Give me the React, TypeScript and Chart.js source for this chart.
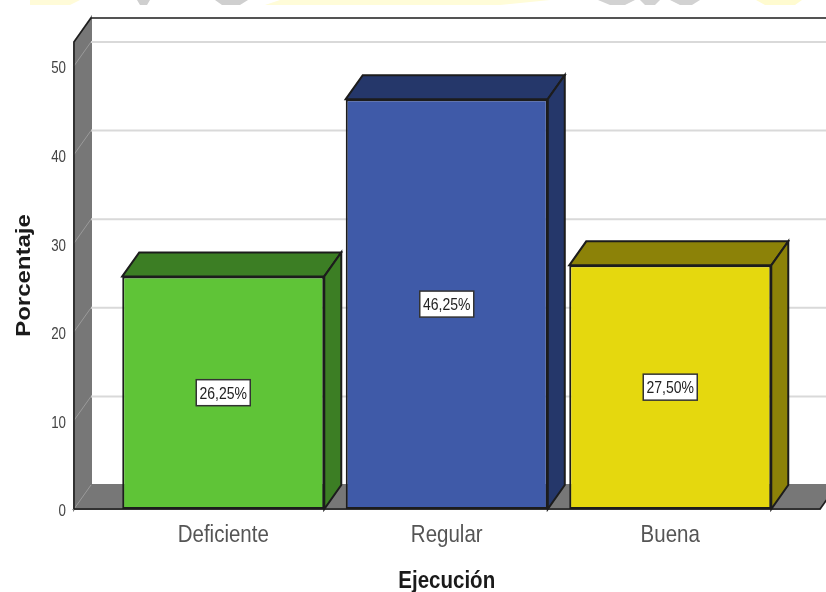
import React, { useEffect, useRef } from "react";
import { Chart, registerables } from "chart.js";

Chart.register(...registerables);

const categories = ["Deficiente", "Regular", "Buena"];
const percentages = [26.25, 46.25, 27.5];
const frontColors = ["#5fc437", "#3f5aa8", "#e5d80e"];
const shadeColors = ["#3c7e24", "#25376a", "#8c8208"];
const yTicks = [0, 10, 20, 30, 40, 50];

const AXIS_MAX = 52.7;
const DEPTH_X = 17;
const DEPTH_Y = 24;
const SIDE_GAP = 37.5;
const FLOOR_OVERHANG = 38;
const WALL = "#777777";
const EDGE = "#1c1c1c";
const GRID = "#d9d9d9";
const FONT = "'Liberation Sans', Arial, sans-serif";
const TEXT_STRETCH = 1.2;

// Remains of a letterhead cropped by the top edge of the page: [x0, x1, x2, x3, colour]
const letterheadStrips: [number, number, number, number, string][] = [
  [30, 80, 70, 30, "#fffbd8"],
  [137, 150, 147, 140, "#cfcfcf"],
  [215, 248, 240, 222, "#cfcfcf"],
  [280, 550, 500, 265, "#fffcd8"],
  [598, 635, 625, 610, "#d2d2d2"],
  [640, 660, 655, 645, "#d2d2d2"],
  [670, 700, 692, 680, "#d2d2d2"],
  [756, 802, 795, 765, "#fffbd0"],
];

const formatPercent = (v: number) => v.toFixed(2).replace(".", ",") + "%";

function polygon(ctx: CanvasRenderingContext2D, pts: number[][], fill: string, stroke = EDGE) {
  ctx.beginPath();
  pts.forEach(([x, y], i) => (i ? ctx.lineTo(x, y) : ctx.moveTo(x, y)));
  ctx.closePath();
  ctx.fillStyle = fill;
  ctx.fill();
  ctx.strokeStyle = stroke;
  ctx.lineWidth = 2;
  ctx.stroke();
}

function edge(ctx: CanvasRenderingContext2D, pts: number[][]) {
  ctx.strokeStyle = EDGE;
  ctx.lineWidth = 1.5;
  ctx.beginPath();
  pts.forEach(([x, y], i) => (i ? ctx.lineTo(x, y) : ctx.moveTo(x, y)));
  ctx.stroke();
}

// Runs a scale's text drawing with a stretch about a fixed pivot, for tall, narrow lettering.
function stretched(ctx: CanvasRenderingContext2D, sx: number, sy: number, px: number, py: number, draw: () => void) {
  ctx.save();
  ctx.translate(px, py);
  ctx.scale(sx, sy);
  ctx.translate(-px, -py);
  draw();
  ctx.restore();
}

const boxPlugin = {
  id: "box3d",
  beforeDraw(chart: any) {
    const { ctx } = chart;
    letterheadStrips.forEach(([a, b, c, d, color]) => {
      ctx.beginPath();
      ctx.moveTo(a, 0);
      ctx.lineTo(b, 0);
      ctx.lineTo(c, 5);
      ctx.lineTo(d, 5);
      ctx.closePath();
      ctx.fillStyle = color;
      ctx.fill();
    });
  },
  // Side wall, floor, grid lines and back edge of the 3D box.
  beforeDatasetsDraw(chart: any) {
    const { ctx, chartArea, scales } = chart;
    const y = scales.y;
    const wallX = chartArea.left - SIDE_GAP;
    const floorY = y.getPixelForValue(0);
    const topY = y.getPixelForValue(AXIS_MAX);
    const rightFront = chartArea.right + FLOOR_OVERHANG;
    const canvasRight = chart.width;
    const backX = wallX + DEPTH_X;
    ctx.save();

    polygon(ctx, [[wallX, floorY], [backX, floorY - DEPTH_Y], [backX, topY - DEPTH_Y], [wallX, topY]], WALL, WALL);
    polygon(ctx, [[wallX, floorY], [backX, floorY - DEPTH_Y], [rightFront + DEPTH_X, floorY - DEPTH_Y], [rightFront, floorY]], WALL, WALL);

    yTicks.forEach((t) => {
      const py = y.getPixelForValue(t);
      if (t > 0) {
        ctx.strokeStyle = GRID;
        ctx.lineWidth = 2;
        ctx.beginPath();
        ctx.moveTo(backX, py - DEPTH_Y);
        ctx.lineTo(canvasRight, py - DEPTH_Y);
        ctx.stroke();
      }
      ctx.strokeStyle = "#9a9a9a";
      ctx.lineWidth = 1;
      ctx.beginPath();
      ctx.moveTo(wallX, py);
      ctx.lineTo(backX, py - DEPTH_Y);
      ctx.stroke();
    });

    edge(ctx, [[canvasRight, topY - DEPTH_Y], [backX, topY - DEPTH_Y], [wallX, topY], [wallX, floorY]]);
    edge(ctx, [[wallX, floorY], [rightFront, floorY], [rightFront + DEPTH_X, floorY - DEPTH_Y]]);
    ctx.restore();
  },
  // Top and side faces of each bar plus the boxed value labels.
  afterDatasetsDraw(chart: any) {
    const { ctx, scales } = chart;
    const meta = chart.getDatasetMeta(0);
    ctx.save();
    meta.data.forEach((bar: any, i: number) => {
      const half = bar.width / 2;
      const l = bar.x - half;
      const r = bar.x + half;
      const t = bar.y;
      const b = bar.base;
      polygon(ctx, [[l, t], [l + DEPTH_X, t - DEPTH_Y], [r + DEPTH_X, t - DEPTH_Y], [r, t]], shadeColors[i]);
      polygon(ctx, [[r, t], [r + DEPTH_X, t - DEPTH_Y], [r + DEPTH_X, b - DEPTH_Y], [r, b]], shadeColors[i]);

      const midY = scales.y.getPixelForValue(percentages[i] / 2);
      const boxW = 54;
      const boxH = 26;
      ctx.fillStyle = "#ffffff";
      ctx.strokeStyle = "#333333";
      ctx.lineWidth = 1.5;
      ctx.fillRect(bar.x - boxW / 2, midY - boxH / 2, boxW, boxH);
      ctx.strokeRect(bar.x - boxW / 2, midY - boxH / 2, boxW, boxH);
      ctx.fillStyle = "#222222";
      ctx.font = `14px ${FONT}`;
      ctx.textAlign = "center";
      ctx.textBaseline = "middle";
      stretched(ctx, 1, TEXT_STRETCH, bar.x, midY, () => {
        ctx.fillText(formatPercent(percentages[i]), bar.x, midY + 1);
      });
    });
    ctx.restore();
  },
};

export default function App() {
  const ref = useRef<HTMLCanvasElement>(null);
  useEffect(() => {
    document.body.style.margin = "0";
    const chart = new Chart(ref.current!, {
      type: "bar",
      plugins: [boxPlugin],
      data: {
        labels: categories,
        datasets: [
          {
            data: percentages,
            backgroundColor: frontColors,
            borderColor: EDGE,
            borderWidth: 2,
            borderSkipped: false,
            barPercentage: 0.904,
            categoryPercentage: 1,
          },
        ],
      },
      options: {
        responsive: false,
        animation: false,
        layout: { padding: { top: 42, right: 44, left: 12, bottom: 0 } },
        plugins: { legend: { display: false }, tooltip: { enabled: false } },
        scales: {
          x: {
            grid: { display: false },
            border: { display: false },
            afterFit: (s: any) => {
              s.height = 83;
            },
            afterUpdate: (s: any) => {
              const labels = s.constructor.prototype.drawLabels;
              const title = s.constructor.prototype.drawTitle;
              s.drawLabels = function (area: any) {
                stretched(s.ctx, 1, TEXT_STRETCH, 0, s.top, () => labels.call(s, area));
              };
              s.drawTitle = function () {
                s.ctx.save();
                s.ctx.translate(0, 2);
                stretched(s.ctx, 1, TEXT_STRETCH, 0, s.bottom - 12, () => title.call(s));
                s.ctx.restore();
              };
            },
            ticks: {
              maxRotation: 0,
              autoSkip: false,
              padding: 1.5,
              color: "#555555",
              font: { family: FONT, size: 20.5 },
            },
            title: {
              display: true,
              text: "Ejecución",
              color: "#1a1a1a",
              padding: { top: 0, bottom: 0 },
              font: { family: FONT, size: 20.5, weight: "bold" },
            },
          },
          y: {
            min: 0,
            max: AXIS_MAX,
            grid: { display: false },
            border: { display: false },
            afterFit: (s: any) => {
              s.width = 99.5;
              s.paddingTop = 0;
              s.paddingBottom = 0;
            },
            afterBuildTicks: (s: any) => {
              s.ticks = yTicks.map((value) => ({ value }));
            },
            afterUpdate: (s: any) => {
              const labels = s.constructor.prototype.drawLabels;
              const title = s.constructor.prototype.drawTitle;
              s.drawLabels = function (area: any) {
                const right = s.right - 45.5;
                s.ctx.save();
                s.ctx.translate(0, 3);
                stretched(s.ctx, 1 / TEXT_STRETCH, 1, right, 0, () => labels.call(s, area));
                s.ctx.restore();
              };
              s.drawTitle = function () {
                stretched(s.ctx, 1, TEXT_STRETCH, 0, (s.top + s.bottom) / 2, () => title.call(s));
              };
            },
            ticks: {
              padding: 37.5,
              color: "#444444",
              font: { family: FONT, size: 16 },
            },
            title: {
              display: true,
              text: "Porcentaje",
              color: "#1a1a1a",
              padding: { top: 0, bottom: 0 },
              font: { family: FONT, size: 20, weight: "bold" },
            },
          },
        },
      },
    } as any);
    return () => chart.destroy();
  }, []);
  return <canvas ref={ref} width={826} height={592} style={{ display: "block" }} />;
}
